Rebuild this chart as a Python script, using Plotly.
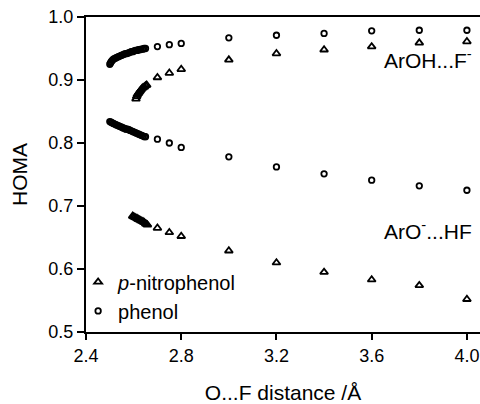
import plotly.graph_objects as go

# ---- data ----
# phenol, ArOH...F- branch
phenol_oh_x = [2.500, 2.503, 2.506, 2.510, 2.515, 2.520, 2.525, 2.530, 2.536, 2.542,
               2.548, 2.554, 2.560, 2.566, 2.572, 2.578, 2.584, 2.590, 2.596, 2.602,
               2.608, 2.614, 2.620, 2.626, 2.632, 2.638, 2.644, 2.650,
               2.70, 2.75, 2.80, 3.0, 3.2, 3.4, 3.6, 3.8, 4.0]
phenol_oh_y = [0.925, 0.927, 0.929, 0.931, 0.933, 0.934, 0.935, 0.936, 0.937, 0.938,
               0.939, 0.940, 0.941, 0.942, 0.942, 0.943, 0.944, 0.945, 0.945, 0.946,
               0.947, 0.947, 0.948, 0.948, 0.949, 0.949, 0.950, 0.950,
               0.953, 0.956, 0.958, 0.967, 0.971, 0.974, 0.978, 0.979, 0.979]
# phenol, ArO-...HF branch
phenol_o_x = [2.500, 2.505, 2.510, 2.515, 2.520, 2.526, 2.532, 2.538, 2.544, 2.550,
              2.556, 2.562, 2.568, 2.574, 2.580, 2.586, 2.592, 2.598, 2.604, 2.610,
              2.616, 2.622, 2.628, 2.634, 2.640, 2.646, 2.650,
              2.70, 2.75, 2.80, 3.0, 3.2, 3.4, 3.6, 3.8, 4.0]
phenol_o_y = [0.834, 0.833, 0.832, 0.831, 0.830, 0.829, 0.828, 0.827, 0.826, 0.825,
              0.824, 0.823, 0.822, 0.822, 0.821, 0.820, 0.819, 0.818, 0.817, 0.816,
              0.815, 0.814, 0.813, 0.812, 0.811, 0.810, 0.810,
              0.806, 0.800, 0.793, 0.778, 0.762, 0.751, 0.741, 0.732, 0.725]
# p-nitrophenol, ArOH...F- branch
nitro_oh_x = [2.610, 2.613, 2.616, 2.620, 2.624, 2.628, 2.632, 2.636, 2.640, 2.645,
              2.650, 2.655,
              2.70, 2.75, 2.80, 3.0, 3.2, 3.4, 3.6, 3.8, 4.0]
nitro_oh_y = [0.870, 0.874, 0.877, 0.879, 0.881, 0.883, 0.885, 0.887, 0.888, 0.889,
              0.891, 0.892,
              0.904, 0.911, 0.917, 0.932, 0.942, 0.948, 0.953, 0.959, 0.961]
# p-nitrophenol, ArO-...HF branch
nitro_o_x = [2.596, 2.600, 2.605, 2.610, 2.615, 2.620, 2.625, 2.630, 2.635, 2.640,
             2.645, 2.650, 2.655, 2.658,
             2.70, 2.75, 2.80, 3.0, 3.2, 3.4, 3.6, 3.8, 4.0]
nitro_o_y = [0.684, 0.683, 0.682, 0.681, 0.680, 0.679, 0.678, 0.677, 0.676, 0.675,
             0.674, 0.672, 0.671, 0.670,
             0.665, 0.658, 0.652, 0.629, 0.610, 0.595, 0.583, 0.574, 0.552]

x_ticks = [2.4, 2.8, 3.2, 3.6, 4.0]
y_ticks = [0.5, 0.6, 0.7, 0.8, 0.9, 1.0]

FONT = "Liberation Sans, Arial, Helvetica, sans-serif"

fig = go.Figure()
fig.add_trace(go.Scatter(
    x=nitro_oh_x + nitro_o_x, y=nitro_oh_y + nitro_o_y, mode="markers",
    name="<i>p</i>-nitrophenol",
    marker=dict(symbol="triangle-up-open", size=7, color="black",
                line=dict(color="black", width=1.8)),
))
fig.add_trace(go.Scatter(
    x=phenol_oh_x + phenol_o_x, y=phenol_oh_y + phenol_o_y, mode="markers",
    name="phenol",
    marker=dict(symbol="circle-open", size=5.5, color="black",
                line=dict(color="black", width=1.8)),
))

fig.add_annotation(x=4.03, y=0.933, xref="x", yref="y", xanchor="right", yanchor="middle",
                   text="ArOH...F<sup>-</sup>", showarrow=False,
                   font=dict(family=FONT, size=21, color="black"))
fig.add_annotation(x=4.03, y=0.662, xref="x", yref="y", xanchor="right", yanchor="middle",
                   text="ArO<sup>-</sup>...HF", showarrow=False,
                   font=dict(family=FONT, size=21, color="black"))

fig.update_layout(
    width=480, height=404,
    margin=dict(l=86, r=0, t=17, b=72),
    paper_bgcolor="white", plot_bgcolor="white",
    font=dict(family=FONT, color="black"),
    showlegend=True,
    legend=dict(x=-0.02, y=0.221, xanchor="left", yanchor="top",
                bgcolor="rgba(0,0,0,0)", font=dict(family=FONT, size=20, color="black"),
                itemsizing="trace"),
    xaxis=dict(range=[2.4, 4.055], tickvals=x_ticks, ticktext=[f"{v:.1f}" for v in x_ticks],
               showline=True, linecolor="black", linewidth=2, mirror=True,
               ticks="outside", ticklen=6, tickwidth=1.5, tickcolor="black",
               showgrid=False, zeroline=False, ticklabeloverflow="allow",
               automargin=False,
               tickfont=dict(family=FONT, size=18, color="black"),
               title=dict(text="O...F distance /Å", standoff=28,
                          font=dict(family=FONT, size=21, color="black"))),
    yaxis=dict(range=[0.5, 1.0], tickvals=y_ticks, ticktext=[f"{v:.1f}" for v in y_ticks],
               showline=True, linecolor="black", linewidth=2,
               ticks="outside", ticklen=7, tickwidth=1.5, tickcolor="black",
               showgrid=False, zeroline=False, ticklabeloverflow="allow",
               automargin=False,
               tickfont=dict(family=FONT, size=18, color="black"),
               title=dict(text="HOMA", standoff=15,
                          font=dict(family=FONT, size=21, color="black"))),
)

fig.write_html("out.html", config={"displayModeBar": False},
               post_script="document.body.style.margin='0';")
